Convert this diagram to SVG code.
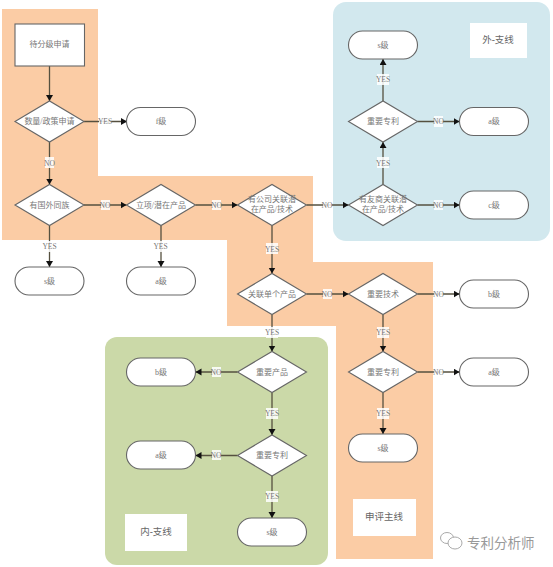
<svg xmlns="http://www.w3.org/2000/svg" width="553" height="567" viewBox="0 0 553 567">
<defs>
<marker id="arr" markerUnits="userSpaceOnUse" markerWidth="7" markerHeight="8" refX="6" refY="3.5" orient="auto"><path d="M0,0 L6,3.5 L0,7 Z" fill="#111"/></marker>
<path id="d" d="M-34.5,0 L0,-20.5 L34.5,0 L0,20.5 Z"/>
<rect id="p" x="-34.5" y="-14" width="69" height="28" rx="14" ry="14"/>
</defs>
<style>
.bg{stroke:none}
.n{fill:#fff;stroke:#666;stroke-width:1.1}
.t{font-family:"Liberation Serif","Noto Sans CJK SC",serif;font-size:8px;fill:#777;text-anchor:middle;dominant-baseline:central}
.big{font-size:9.5px;fill:#666}
.c line{stroke:#55503f;stroke-width:1.3;marker-end:url(#arr)}
.l rect{fill:#fff;opacity:.85}
.l text{font-family:"Liberation Serif",serif;font-size:7.5px;fill:#777;text-anchor:middle;dominant-baseline:central}
.wm{font-family:"Noto Sans CJK SC",sans-serif;font-size:13.5px;fill:#999}
</style>
<g id="backgrounds">
<path class="bg" fill="#fbcca5" d="M2,9 H98 V176 H313 V262 H433 V559 H336 V326 H227 V240 H2 Z"/>
<rect class="bg" fill="#d2e8ee" x="333" y="2" width="217" height="239" rx="13"/>
<rect class="bg" fill="#cbd9a8" x="105" y="337" width="223" height="228" rx="12"/>
<rect class="bg" fill="#fff" x="470" y="23" width="57" height="35"/>
<rect class="bg" fill="#fff" x="125" y="514" width="62" height="37"/>
<rect class="bg" fill="#fff" x="353" y="499" width="63" height="37"/>
<text class="t big" x="498" y="40">外-支线</text>
<text class="t big" x="156" y="532">内-支线</text>
<text class="t big" x="384" y="517">申评主线</text>
</g>
<g id="connectors" class="c">
<line x1="49.5" y1="66" x2="49.5" y2="101"/>
<line x1="84" y1="121.5" x2="127" y2="121.5"/>
<line x1="49.5" y1="142" x2="49.5" y2="184.5"/>
<line x1="84" y1="205" x2="126.5" y2="205"/>
<line x1="49.5" y1="225.5" x2="49.5" y2="267"/>
<line x1="195.5" y1="205" x2="237.5" y2="205"/>
<line x1="161" y1="225.5" x2="161" y2="267"/>
<line x1="306.5" y1="205" x2="348.5" y2="205"/>
<line x1="272" y1="225.5" x2="272" y2="273.5"/>
<line x1="417.5" y1="205" x2="459.5" y2="205"/>
<line x1="383" y1="184.5" x2="383" y2="142"/>
<line x1="417.5" y1="121.5" x2="459.5" y2="121.5"/>
<line x1="383" y1="101" x2="383" y2="59"/>
<line x1="306.5" y1="294" x2="348.5" y2="294"/>
<line x1="417.5" y1="294" x2="459.5" y2="294"/>
<line x1="383" y1="314.5" x2="383" y2="351.5"/>
<line x1="417.5" y1="372" x2="459.5" y2="372"/>
<line x1="383" y1="392.5" x2="383" y2="434"/>
<line x1="272" y1="314.5" x2="272" y2="351.5"/>
<line x1="237.5" y1="372" x2="195.5" y2="372"/>
<line x1="272" y1="392.5" x2="272" y2="435"/>
<line x1="237.5" y1="455.5" x2="195.5" y2="455.5"/>
<line x1="272" y1="476" x2="272" y2="518"/>
</g>
<g id="connector-labels" class="l">
<rect x="99" y="116" width="12" height="11"/><text x="105" y="121.5">YES</text>
<rect x="45" y="157" width="9" height="11"/><text x="49.5" y="163">NO</text>
<rect x="101" y="200" width="9" height="10"/><text x="105" y="205">NO</text>
<rect x="212" y="200" width="9" height="10"/><text x="216.5" y="205">NO</text>
<rect x="43" y="241" width="13" height="11"/><text x="49.5" y="246.5">YES</text>
<rect x="154" y="241" width="13" height="11"/><text x="160.5" y="246.5">YES</text>
<rect x="266" y="243" width="12" height="11"/><text x="272" y="249">YES</text>
<rect x="323" y="200" width="9" height="10"/><text x="327" y="205">NO</text>
<rect x="434" y="200" width="9" height="10"/><text x="438.5" y="205">NO</text>
<rect x="377" y="157" width="12" height="11"/><text x="383" y="163">YES</text>
<rect x="434" y="116" width="9" height="11"/><text x="438.5" y="121.5">NO</text>
<rect x="377" y="74" width="12" height="11"/><text x="383" y="79.5">YES</text>
<rect x="323" y="289" width="9" height="10"/><text x="327" y="294">NO</text>
<rect x="434" y="289" width="9" height="10"/><text x="438.5" y="294">NO</text>
<rect x="377" y="327" width="12" height="11"/><text x="383" y="332.5">YES</text>
<rect x="434" y="367" width="9" height="10"/><text x="438.5" y="372">NO</text>
<rect x="377" y="408" width="12" height="11"/><text x="383" y="413.5">YES</text>
<rect x="266" y="327" width="12" height="11"/><text x="272" y="332.5">YES</text>
<rect x="212" y="367" width="9" height="10"/><text x="216" y="372">NO</text>
<rect x="266" y="408" width="12" height="11"/><text x="272" y="413.5">YES</text>
<rect x="212" y="450" width="9" height="10"/><text x="216" y="455">NO</text>
<rect x="266" y="491" width="12" height="11"/><text x="272" y="496.5">YES</text>
</g>
<g id="start"><rect class="n" x="15" y="24" width="69.5" height="42"/><text class="t" x="49.5" y="44.5">待分级申请</text></g>
<g id="d1"><use href="#d" class="n" x="49.5" y="121.5"/><text class="t" x="49.5" y="121.5">数量/政策申请</text></g>
<g id="f"><use href="#p" class="n" x="161" y="121.5"/><text class="t" x="161" y="121.5">f级</text></g>
<g id="d2"><use href="#d" class="n" x="49.5" y="205"/><text class="t" x="49.5" y="205">有国外同族</text></g>
<g id="s1"><use href="#p" class="n" x="49.5" y="281"/><text class="t" x="49.5" y="281">s级</text></g>
<g id="d3"><use href="#d" class="n" x="161" y="205"/><text class="t" x="161" y="205">立项/潜在产品</text></g>
<g id="a1"><use href="#p" class="n" x="161" y="281"/><text class="t" x="161" y="281">a级</text></g>
<g id="d4"><use href="#d" class="n" x="272" y="205"/><text class="t" x="272" y="199.5">有公司关联潜</text><text class="t" x="272" y="209">在产品/技术</text></g>
<g id="d5"><use href="#d" class="n" x="383" y="205"/><text class="t" x="383" y="199.5">有友商关联潜</text><text class="t" x="383" y="209">在产品/技术</text></g>
<g id="c"><use href="#p" class="n" x="494" y="205"/><text class="t" x="494" y="205">c级</text></g>
<g id="d6"><use href="#d" class="n" x="383" y="121.5"/><text class="t" x="383" y="121.5">重要专利</text></g>
<g id="a2"><use href="#p" class="n" x="494" y="121.5"/><text class="t" x="494" y="121.5">a级</text></g>
<g id="s2"><use href="#p" class="n" x="383" y="45"/><text class="t" x="383" y="45">s级</text></g>
<g id="d7"><use href="#d" class="n" x="272" y="294"/><text class="t" x="272" y="294">关联单个产品</text></g>
<g id="d8"><use href="#d" class="n" x="383" y="294"/><text class="t" x="383" y="294">重要技术</text></g>
<g id="b1"><use href="#p" class="n" x="494" y="294"/><text class="t" x="494" y="294">b级</text></g>
<g id="d9"><use href="#d" class="n" x="383" y="372"/><text class="t" x="383" y="372">重要专利</text></g>
<g id="a3"><use href="#p" class="n" x="494" y="372"/><text class="t" x="494" y="372">a级</text></g>
<g id="s3"><use href="#p" class="n" x="383" y="448"/><text class="t" x="383" y="448">s级</text></g>
<g id="d10"><use href="#d" class="n" x="272" y="372"/><text class="t" x="272" y="372">重要产品</text></g>
<g id="b2"><use href="#p" class="n" x="161" y="372"/><text class="t" x="161" y="372">b级</text></g>
<g id="d11"><use href="#d" class="n" x="272" y="455.5"/><text class="t" x="272" y="455.5">重要专利</text></g>
<g id="a4"><use href="#p" class="n" x="161" y="455"/><text class="t" x="161" y="455">a级</text></g>
<g id="s4"><use href="#p" class="n" x="272" y="532"/><text class="t" x="272" y="532">s级</text></g>
<g id="watermark">
<ellipse cx="447" cy="538" rx="6.5" ry="5.5" fill="#fff" stroke="#aaa" stroke-width="1"/>
<ellipse cx="455" cy="543" rx="7" ry="6" fill="#fff" stroke="#aaa" stroke-width="1"/>
<text class="wm" x="467" y="548">专利分析师</text>
</g>
</svg>
